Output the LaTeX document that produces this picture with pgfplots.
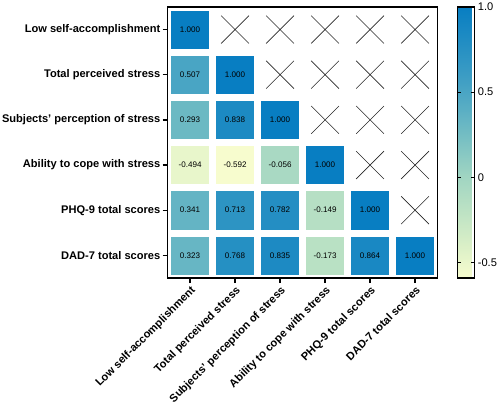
\documentclass[border=0pt]{standalone}
\usepackage{pgfplots}
\usepackage{pgfplotstable}
\pgfplotsset{compat=1.18}
\usepackage{fontspec}
\setmainfont{Liberation Sans}

\pgfplotstableread{
x y v
0 5 1.000
0 4 0.507
1 4 1.000
0 3 0.293
1 3 0.838
2 3 1.000
0 2 -0.494
1 2 -0.592
2 2 -0.056
3 2 1.000
0 1 0.341
1 1 0.713
2 1 0.782
3 1 -0.149
4 1 1.000
0 0 0.323
1 0 0.768
2 0 0.835
3 0 -0.173
4 0 0.864
5 0 1.000
}\corrdata

\pgfplotstableread{
x y
1 5
2 5
3 5
4 5
5 5
2 4
3 4
4 4
5 4
3 3
4 3
5 3
4 2
5 2
5 1
}\emptydata

\begin{document}
\begin{tikzpicture}
\begin{axis}[
  scale only axis,
  width=268pt, height=269pt,
  xmin=-0.5, xmax=5.5, ymin=-0.5, ymax=5.5,
  xtick={0,...,5}, ytick={0,...,5},
  xticklabels={Low self-accomplishment, Total perceived stress, Subjects' perception of stress, Ability to cope with stress, PHQ-9 total scores, DAD-7 total scores},
  yticklabels={DAD-7 total scores, PHQ-9 total scores, Ability to cope with stress, Subjects' perception of stress, Total perceived stress, Low self-accomplishment},
  tick align=outside, xtick pos=bottom, ytick pos=left,
  major tick length=5pt,
  axis line style={line width=1.6pt},
  every tick/.style={line width=1.3pt, black},
  xticklabel style={rotate=45, anchor=north east, inner sep=1.5pt, font=\bfseries\fontsize{11}{13}\selectfont},
  yticklabel style={inner sep=2pt, font=\bfseries\fontsize{11}{13}\selectfont},
  /pgf/number format/assume math mode=true,
  colormap={corr}{rgb255=(247,252,206) rgb255=(217,239,199) rgb255=(188,226,196) rgb255=(160,213,194) rgb255=(124,194,195) rgb255=(89,174,196) rgb255=(59,156,196) rgb255=(33,141,195) rgb255=(8,126,194)},
  point meta min=-0.592, point meta max=1,
  colorbar,
  colorbar shift/.style={xshift=19pt},
  colorbar style={
    width=17pt,
    ytick={-0.5,0,0.5,1},
    yticklabels={-0.5,0,0.5,1.0},
    yticklabel style={font=\fontsize{11}{13}\selectfont, inner sep=3pt},
    tick align=inside, ytick pos=both, yticklabel pos=right,
    major tick length=3.5pt,
    every tick/.style={line width=1pt, black},
    axis line style={line width=1.2pt},
    /pgf/number format/assume math mode=true,
  },
]
\addplot[scatter, only marks, mark=square*, mark size=18.4pt,
  point meta=explicit,
  scatter/use mapped color={draw=mapped color, fill=mapped color}]
  table[x=x, y=y, meta=v]{\corrdata};
\addplot[draw=none, mark=none, point meta=explicit,
  nodes near coords={\pgfmathprintnumber[fixed,fixed zerofill,precision=3]{\pgfplotspointmeta}},
  every node near coord/.append style={font=\fontsize{8}{9}\selectfont, text=black, anchor=center}]
  table[x=x, y=y, meta=v]{\corrdata};
\addplot[only marks, mark=x, mark size=19.5pt, mark options={line width=0.6pt, draw=black!85}]
  table[x=x, y=y]{\emptydata};
\end{axis}
\end{tikzpicture}
\end{document}
